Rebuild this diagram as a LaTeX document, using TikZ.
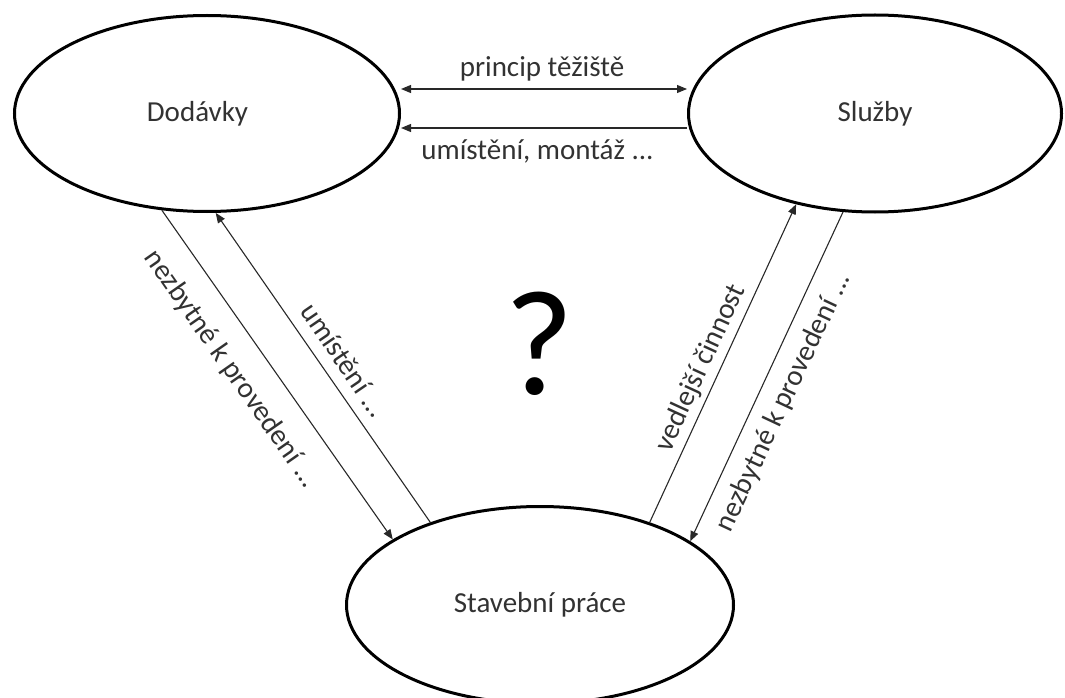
\documentclass[tikz,border=0pt]{standalone}
\usepackage{fontspec}
\setmainfont{Carlito}
\usetikzlibrary{shapes.geometric,arrows.meta}
\definecolor{txt}{RGB}{50,50,50}
\definecolor{linec}{RGB}{40,40,40}
\begin{document}
\begin{tikzpicture}[x=1pt,y=-1pt,
  bubble/.style={ellipse, draw=black, line width=3pt, inner sep=0pt, text=txt,
    font=\fontsize{29}{34}\selectfont},
  lbl/.style={text=txt, font=\fontsize{29}{34}\selectfont, inner sep=0pt},
  tipa/.style={Triangle[length=10pt,width=8pt]},
  conn/.style={draw=linec, line width=1.1pt, -{Triangle[length=10pt,width=8pt]}},
  dconn/.style={draw=linec, line width=1.1pt, {Triangle[length=10pt,width=8pt]}-{Triangle[length=10pt,width=8pt]}},
]
\useasboundingbox (0,0) rectangle (1065,698);

\node[bubble, minimum width=385pt, minimum height=196pt] (dod) at (207,113.5) {\hspace*{-19pt}Dodávky};
\node[bubble, minimum width=373pt, minimum height=197pt] (sl) at (875,113.5) {Služby};
\node[bubble, minimum width=387pt, minimum height=197pt] (stav) at (540,605) {Stavební práce};

\draw[dconn] ([yshift=24.5pt]dod.east) -- ([yshift=24.5pt]sl.west);
\draw[conn] ([yshift=-14.5pt]sl.west) -- ([yshift=-14.5pt]dod.east);

\draw[conn] (dod.245) -- (stav.156);
\draw[conn] (stav.143) -- (dod.275);
\draw[conn] (stav.37) -- (sl.229);
\draw[conn] (sl.252) -- (stav.23);

\node[lbl, anchor=base] (l1) at (542,77) {princip těžiště};
\node[lbl, anchor=base] (l2) at (537.5,160) {umístění, montáž ...};
\node[lbl, rotate=-55] (l3) at (231,369) {nezbytné k provedení ...};
\node[lbl, rotate=-55.6] (l4) at (344.5,360) {umístění ...};
\node[lbl, rotate=65.3] (l5) at (701,368) {vedlejší činnost};
\node[lbl, rotate=64.9] (l6) at (783.5,402) {nezbytné k provedení ...};

\node[inner sep=0pt, text=black, font=\fontsize{150}{150}\selectfont] (q) at (539,344) {?};
\end{tikzpicture}
\end{document}
